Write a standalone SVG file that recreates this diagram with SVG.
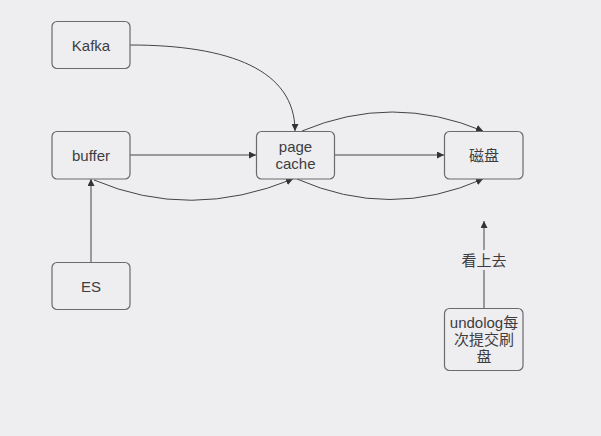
<svg xmlns="http://www.w3.org/2000/svg" width="601" height="436" viewBox="0 0 601 436">
<style>
.box{fill:#eeedf0;stroke:#6b6b6e;stroke-width:1.2}
.t{font-family:"Liberation Sans","Noto Sans CJK SC",sans-serif;font-size:15px;fill:#3d3d40;text-anchor:middle;dominant-baseline:central}
.c{fill:none;stroke:#444446;stroke-width:1}
</style>
<defs>
<marker id="ah" viewBox="0 0 10 10" refX="10" refY="5" markerWidth="7" markerHeight="7" markerUnits="userSpaceOnUse" orient="auto">
<path d="M0,0 L10,5 L0,10 z" fill="#333"/>
</marker>
</defs>
<rect width="601" height="436" fill="#eeedf0"/>
<g id="connectors">
<path class="c" d="M130,45 C230,45 295,70 295,131" marker-end="url(#ah)"/>
<path class="c" d="M130,155 L256,155" marker-end="url(#ah)"/>
<path class="c" d="M94,180 Q190,221 293,179" marker-end="url(#ah)"/>
<path class="c" d="M334,155 L444,155" marker-end="url(#ah)"/>
<path class="c" d="M302,131 Q392,93 483,131" marker-end="url(#ah)"/>
<path class="c" d="M297,179 Q390,220 483,179" marker-end="url(#ah)"/>
<path class="c" d="M91,262 L91,179" marker-end="url(#ah)"/>
<path class="c" d="M484,308 L484,221" marker-end="url(#ah)"/>
<rect x="460" y="250" width="48" height="20" fill="#eeedf0"/>
<text class="t" x="484" y="260">看上去</text>
</g>
<g id="kafka"><rect class="box" x="52" y="21.5" width="78" height="47" rx="5"/><text class="t" x="91" y="45">Kafka</text></g>
<g id="buffer"><rect class="box" x="52" y="131.5" width="78" height="47.5" rx="5"/><text class="t" x="91" y="155">buffer</text></g>
<g id="pagecache"><rect class="box" x="256.5" y="131.5" width="78" height="47.5" rx="5"/><text class="t" x="295.5" y="146.5">page</text><text class="t" x="295.5" y="163.5">cache</text></g>
<g id="disk"><rect class="box" x="444.5" y="131.5" width="78.5" height="47.5" rx="5"/><text class="t" x="484" y="155">磁盘</text></g>
<g id="es"><rect class="box" x="52" y="262.5" width="78" height="47" rx="5"/><text class="t" x="91" y="286">ES</text></g>
<g id="undolog"><rect class="box" x="444.5" y="308.5" width="78.5" height="62" rx="5"/><text class="t" x="484" y="322.5">undolog每</text><text class="t" x="484" y="339.5">次提交刷</text><text class="t" x="484" y="356.5">盘</text></g>
</svg>
